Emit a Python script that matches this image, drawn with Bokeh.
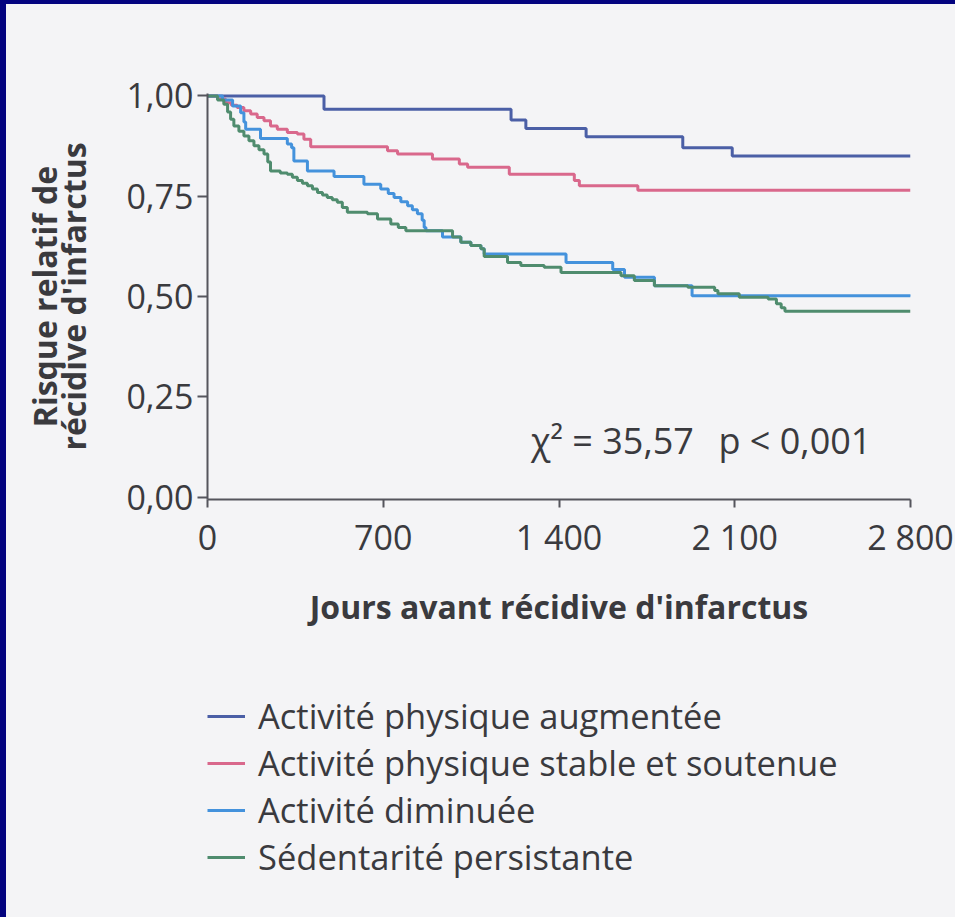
from bokeh.plotting import figure
from bokeh.layouts import column, row
from bokeh.models import (Range1d, FixedTicker, Legend, LegendItem, Label,
                          LinearAxis, Div)
from bokeh.embed import file_html
from bokeh.resources import INLINE

# Kaplan-Meier style survival steps (days, fraction without recurrence)
days_aug = [0, 464, 1209, 1268, 1508, 1893, 2090, 2800]
surv_aug = [1.0, 0.967, 0.940, 0.919, 0.898, 0.871, 0.850, 0.850]

days_stable = [0, 40, 72, 95, 118, 145, 172, 198, 225, 251,
               278, 318, 358, 384, 411, 717, 757, 896, 1003, 1036,
               1202, 1461, 1481, 1714, 2800]
surv_stable = [1.0, 0.992, 0.983, 0.977, 0.971, 0.963, 0.955, 0.946, 0.938, 0.925,
               0.917, 0.909, 0.905, 0.892, 0.873, 0.863, 0.855, 0.843, 0.830, 0.822,
               0.805, 0.789, 0.776, 0.765, 0.765]

days_dim = [0, 60, 100, 132, 145, 152, 211, 318, 335, 344,
            398, 504, 623, 690, 720, 743, 770, 797, 816, 836,
            855, 863, 870, 936, 1009, 1049, 1089, 1102, 1428, 1614,
            1661, 1780, 1930, 2800]
surv_dim = [1.0, 0.99, 0.975, 0.958, 0.935, 0.917, 0.894, 0.880, 0.871, 0.838,
            0.813, 0.799, 0.780, 0.768, 0.757, 0.747, 0.736, 0.726, 0.716, 0.706,
            0.690, 0.672, 0.664, 0.648, 0.635, 0.627, 0.619, 0.606, 0.585, 0.567,
            0.548, 0.527, 0.502, 0.500]

days_sed = [0, 40, 65, 80, 92, 105, 125, 145, 165, 185,
            205, 225, 240, 251, 290, 318, 338, 358, 378, 398,
            418, 438, 458, 477, 497, 517, 537, 557, 637, 677,
            730, 760, 790, 976, 1009, 1049, 1089, 1102, 1195, 1248,
            1341, 1408, 1647, 1700, 1780, 1913, 2020, 2033, 2118, 2233,
            2266, 2285, 2300, 2800]
surv_sed = [1.0, 0.99, 0.979, 0.96, 0.942, 0.925, 0.912, 0.90, 0.888, 0.876,
            0.866, 0.855, 0.835, 0.813, 0.808, 0.805, 0.797, 0.789, 0.782, 0.776,
            0.768, 0.759, 0.753, 0.747, 0.741, 0.735, 0.722, 0.710, 0.706, 0.693,
            0.681, 0.672, 0.664, 0.648, 0.635, 0.627, 0.619, 0.600, 0.585, 0.577,
            0.573, 0.560, 0.552, 0.540, 0.527, 0.523, 0.515, 0.507, 0.498, 0.494,
            0.482, 0.472, 0.463, 0.463]

series_days = [days_aug, days_stable, days_dim, days_sed]
series_surv = [surv_aug, surv_stable, surv_dim, surv_sed]
series_labels = ["Activité physique augmentée",
                 "Activité physique stable et soutenue",
                 "Activité diminuée",
                 "Sédentarité persistante"]
series_colors = ["#4b5fa6", "#d9688c", "#4492dc", "#4f8c6e"]

x_ticks = [0, 700, 1400, 2100, 2800]
x_tick_labels = ["0", "700", "1 400", "2 100", "2 800"]
y_ticks = [0, 0.25, 0.5, 0.75, 1.0]
y_tick_labels = ["0,00", "0,25", "0,50", "0,75", "1,00"]

NAVY = "#03037f"
PAPER = "#f4f4f6"
INK = "#3a3a3e"
AXIS = "#55555c"
FONT = "Open Sans"
LINE_W = 3

# ---- survival chart -------------------------------------------------------
p = figure(width=949, height=640, output_backend="svg", toolbar_location=None,
           x_range=Range1d(0, 2800), y_range=Range1d(-0.006, 1.006),
           min_border_left=201, min_border_right=45,
           min_border_top=89, min_border_bottom=145)
p.background_fill_color = PAPER
p.border_fill_color = PAPER
p.outline_line_color = None
p.xgrid.visible = False
p.ygrid.visible = False

for d, s, c in zip(series_days, series_surv, series_colors):
    p.step(d, s, mode="after", line_color=c, line_width=LINE_W)

for ax in (p.xaxis[0], p.yaxis[0]):
    ax.axis_line_color = AXIS
    ax.axis_line_width = 2
    ax.major_tick_line_color = AXIS
    ax.major_tick_line_width = 2
    ax.minor_tick_line_color = None
    ax.major_label_text_font = FONT
    ax.major_label_text_font_size = "34px"
    ax.major_label_text_color = INK
    ax.axis_label_text_font = FONT
    ax.axis_label_text_font_style = "bold"
    ax.axis_label_text_color = INK
    ax.axis_label_text_font_size = "32px"

p.xaxis.ticker = FixedTicker(ticks=x_ticks)
p.xaxis.major_label_overrides = dict(zip(x_ticks, x_tick_labels))
p.xaxis.major_tick_in = 0
p.xaxis.major_tick_out = 8
p.xaxis.major_label_standoff = 6
p.xaxis.axis_label = "Jours avant récidive d'infarctus"
p.xaxis.axis_label_standoff = 22

p.yaxis.ticker = FixedTicker(ticks=y_ticks)
p.yaxis.major_label_overrides = dict(zip(y_ticks, y_tick_labels))
p.yaxis.major_tick_in = 0
p.yaxis.major_tick_out = 10
p.yaxis.major_label_standoff = 4
p.yaxis.axis_label = "récidive d'infarctus"
p.yaxis.axis_label_standoff = 28

# outer line of the two-line y title, carried by a bare axis
title_axis = LinearAxis(ticker=FixedTicker(ticks=[]), axis_label="Risque relatif de",
                        axis_line_color=None, major_tick_line_color=None,
                        minor_tick_line_color=None, major_label_text_font_size="0px",
                        axis_label_text_font=FONT, axis_label_text_font_style="bold",
                        axis_label_text_font_size="32px", axis_label_text_color=INK,
                        axis_label_standoff=-16)
p.add_layout(title_axis, "left")

# log-rank statistic
p.add_layout(Label(x=1288, y=0.142, text="χ² = 35,57", text_font=FONT,
                   text_font_size="36px", text_color=INK, text_baseline="middle"))
p.add_layout(Label(x=2035, y=0.142, text="p < 0,001", text_font=FONT,
                   text_font_size="36px", text_color=INK, text_baseline="middle"))

# ---- legend strip ---------------------------------------------------------
lg = figure(width=949, height=273, output_backend="svg", toolbar_location=None,
            x_range=Range1d(5000, 6000), y_range=Range1d(5, 6),
            x_axis_type=None, y_axis_type=None, min_border=0)
lg.background_fill_color = PAPER
lg.border_fill_color = PAPER
lg.outline_line_color = None
lg.xgrid.visible = False
lg.ygrid.visible = False

items = []
for d, s, c, lab in zip(series_days, series_surv, series_colors, series_labels):
    r = lg.step(d, s, mode="after", line_color=c, line_width=LINE_W)
    items.append(LegendItem(label=lab, renderers=[r]))

legend = Legend(items=items, location=(0, 37), orientation="vertical",
                label_text_font=FONT, label_text_font_size="34.5px",
                label_text_color=INK, glyph_width=38, glyph_height=44,
                label_height=44, spacing=-1, label_standoff=13,
                padding=0, margin=0, border_line_color=None,
                background_fill_alpha=0)
lg.add_layout(legend, "center")

# navy slide frame along the left and top edges
left_strip = Div(text="", width=6, height=917, margin=(0, 0, 0, 0),
                 styles={"background-color": NAVY})
top_strip = Div(text="", width=949, height=4, margin=(0, 0, 0, 0),
                styles={"background-color": NAVY})

sheet = column(top_strip, p, lg, spacing=0, styles={"background-color": PAPER})
page = row(left_strip, sheet, spacing=0)
open("out.html", "w").write(file_html(page, INLINE))
